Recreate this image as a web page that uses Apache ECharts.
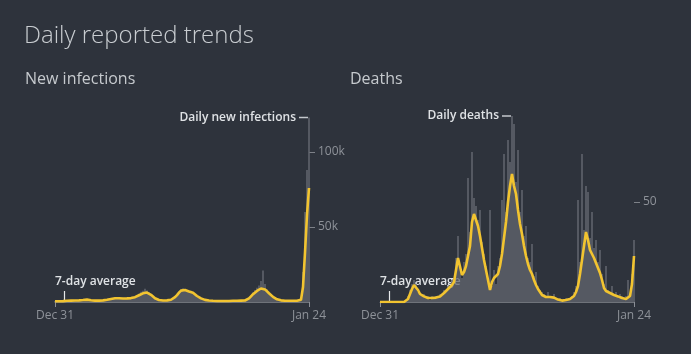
<!DOCTYPE html>
<html>
<head>
<meta charset="utf-8">
<script src="https://cdn.jsdelivr.net/npm/echarts@6/dist/echarts.min.js"></script>
<style>
  html, body { margin: 0; padding: 0; background: #2e333c; }
  #chart { width: 691px; height: 354px; }
</style>
</head>
<body>
<div id="chart"></div>
<script>
// values, one point per ~3 days (Dec 31 -> Jan 24)
var tickLabels = ['Dec 31', 'Jan 24'];

// new infections, thousands
var infBars = [
  0.6,0.5,0.7,0.6,0.8,0.7,0.9,1.0,0.9,1.1,
  1.0,1.2,1.3,1.2,1.5,1.8,1.7,1.5,1.3,1.1,
  1.0,0.9,1.1,1.2,1.3,1.6,1.7,2.1,2.4,2.7,
  2.9,2.8,2.6,2.5,2.4,2.6,2.8,3.0,3.2,3.5,
  4.0,4.6,5.5,6.8,7.5,8.9,7.6,6.5,5.2,3.8,
  2.7,1.9,1.4,1.2,1.1,1.1,1.2,1.4,1.8,2.6,
  3.8,5.2,7.0,8.4,9.2,8.6,7.8,7.7,7.5,6.6,
  5.4,4.4,3.5,2.6,2.0,1.6,1.2,1.1,0.9,0.9,
  0.8,0.9,0.7,0.8,0.8,0.7,0.9,0.8,0.8,0.9,
  0.9,0.8,1.0,1.0,1.0,1.2,1.8,2.8,4.5,6.5,
  8.0,9.5,11,14,21,12,8.5,6.5,5.0,3.8,
  2.8,2.0,1.6,1.2,1.0,0.9,0.9,0.8,0.9,0.9,
  0.9,1.0,1.1,2.5,20,60,88,123
];
var infAvg = [
  0.5,0.5,0.5,0.6,0.6,0.7,0.8,0.8,0.9,0.9,
  1.0,1.0,1.1,1.2,1.3,1.5,1.6,1.4,1.2,1.0,
  0.9,0.9,0.9,1.0,1.1,1.3,1.5,1.7,2.0,2.3,
  2.5,2.6,2.5,2.4,2.3,2.3,2.4,2.5,2.6,2.8,
  3.2,3.8,4.5,5.2,5.8,6.2,6.3,5.8,4.8,3.6,
  2.5,1.7,1.3,1.1,1.0,1.0,1.1,1.2,1.5,2.2,
  3.2,4.6,6.2,7.6,8.4,8.0,7.2,7.0,6.9,6.2,
  5.0,4.0,3.2,2.4,1.8,1.4,1.1,1.0,0.9,0.8,
  0.8,0.7,0.7,0.7,0.7,0.7,0.7,0.7,0.7,0.8,
  0.8,0.8,0.8,0.9,0.9,1.0,1.5,2.4,3.8,5.2,
  6.5,7.4,8.2,9.0,9.1,8.4,7.2,5.8,4.5,3.4,
  2.5,1.8,1.4,1.1,0.9,0.8,0.8,0.8,0.8,0.8,
  0.8,0.8,0.9,1.5,10,33,58,76
];

// deaths
var deathBars = [
  0,0,0,0,0,0,0,0,0,0,
  0,0,0,1,3,6,9,11,9,5,
  4,3,4,2,3,1,3,2,3,2,
  4,3,6,5,8,7,11,9,22,33,
  18,12,20,24,62,35,75,52,48,41,
  46,30,24,18,12,46,8,16,9,18,
  22,51,74,45,81,70,93,89,60,76,
  45,56,33,38,22,20,29,13,15,8,
  6,5,4,3,5,2,3,4,2,1,
  2,1,1,2,1,2,3,5,8,51,
  20,74,36,58,55,32,45,27,31,20,
  26,14,9,18,6,5,8,4,5,3,
  4,3,2,3,11,4,14,31
];
var deathAvg = [
  0,0,0,0,0,0,0,0,0,0,
  0,0,0,0,1.5,4,6.5,8.5,8,6,
  4,3.2,2.8,2.5,2,1.5,2,1.8,2.2,2.5,
  2.8,3.5,4.5,5.5,6.5,7.5,8.5,10,11,22,
  21,13.5,15,18,23,28,40,44,43.5,38,
  33,27,21,16,11,6,10,12,11,14,
  18,24,32,40,50,58,64,58,54,46,
  39,34,28,23,19,16,14,11,8.5,6.5,
  5,3.5,3,2.5,3,2.5,2,2.2,1.5,1.2,
  1,0.7,0.8,1,1.2,1.5,2,3,5,8,
  14,21,28,35,31,26,24,22,19.5,17,
  14.5,11,7,5.5,5,4.5,4.3,3.5,3,2.8,
  2.5,2,2.2,1.5,1.2,3,9,23
];

var N = infAvg.length;
var start = new Date(2020, 11, 31);
var months = ['Jan','Feb','Mar','Apr','May','Jun','Jul','Aug','Sep','Oct','Nov','Dec'];
var categories = [];
for (var i = 0; i < N; i++) {
  var d = new Date(start.getTime() + Math.round(i * 389 / (N - 1)) * 86400000);
  categories.push(months[d.getMonth()] + ' ' + d.getDate());
}

var BG = '#2e333c';
var BAR = '#63676f';
var YEL = '#f2c430';
var TXT = '#dfe2e5';
var MUTED = '#8e9299';

function xAxisFor(gi) {
  return {
    type: 'category', gridIndex: gi, data: categories, boundaryGap: false,
    axisLine: { lineStyle: { color: '#6f737a', width: 1 } },
    axisTick: { interval: function (i) { return i === 0 || i === N - 1; }, length: 5, lineStyle: { color: '#8a8e95' } },
    axisLabel: {
      interval: function (i) { return i === 0 || i === N - 1; },
      formatter: function (v, i) { return i === 0 ? tickLabels[0] : tickLabels[1]; },
      color: MUTED, fontSize: 12, fontFamily: 'Open Sans', margin: 8
    },
    splitLine: { show: false }
  };
}
function yAxisFor(gi, max, ticks, fmt) {
  return {
    type: 'value', gridIndex: gi, position: 'right', min: 0, max: max,
    axisLine: { show: false }, splitLine: { show: false },
    axisTick: { show: true, customValues: ticks, length: 6, lineStyle: { color: '#7d8188' } },
    axisLabel: { customValues: ticks, formatter: fmt, color: MUTED, fontSize: 12, fontFamily: 'Open Sans', margin: 9 }
  };
}

var chart = echarts.init(document.getElementById('chart'));
chart.setOption({
  backgroundColor: BG,
  animation: false,
  title: [
    { text: 'Daily reported trends', left: 24, top: 24, padding: 0,
      textStyle: { color: '#c9cdd1', fontSize: 24, fontWeight: 300, fontFamily: 'Open Sans' } },
    { text: 'New infections', left: 25, top: 71, padding: 0,
      textStyle: { color: '#c6cace', fontSize: 16, fontWeight: 'normal', fontFamily: 'Open Sans' } },
    { text: 'Deaths', left: 350, top: 71, padding: 0,
      textStyle: { color: '#c6cace', fontSize: 16, fontWeight: 'normal', fontFamily: 'Open Sans' } }
  ],
  grid: [
    { left: 55, width: 254, top: 102, height: 200 },
    { left: 380, width: 254, top: 102, height: 200 }
  ],
  xAxis: [xAxisFor(0), xAxisFor(1)],
  yAxis: [
    yAxisFor(0, 400 / 3, [50, 100], function (v) { return v + 'k'; }),
    yAxisFor(1, 100, [50], function (v) { return String(v); })
  ],
  series: [
    { type: 'bar', xAxisIndex: 0, yAxisIndex: 0, data: infBars, barCategoryGap: '25%',
      itemStyle: { color: BAR }, silent: true },
    { type: 'line', xAxisIndex: 0, yAxisIndex: 0, data: infAvg, showSymbol: false,
      lineStyle: { color: YEL, width: 2.6 }, silent: true },
    { type: 'bar', xAxisIndex: 1, yAxisIndex: 1, data: deathBars, barCategoryGap: '25%',
      itemStyle: { color: BAR }, silent: true },
    { type: 'line', xAxisIndex: 1, yAxisIndex: 1, data: deathAvg, showSymbol: false,
      lineStyle: { color: YEL, width: 2.6 }, silent: true }
  ]
});

// annotations anchored to the data through the axes
var labelFont = '600 12px "Open Sans"';
var g = [];
[[0, infBars, 'Daily new infections'], [2, deathBars, 'Daily deaths']].forEach(function (a) {
  var bars = a[1];
  var mx = Math.max.apply(null, bars);
  var idx = bars.indexOf(mx);
  var p = chart.convertToPixel({ seriesIndex: a[0] }, [idx, mx]);
  g.push({ type: 'line', shape: { x1: p[0] - 10, y1: p[1], x2: p[0] - 1, y2: p[1] },
    style: { stroke: '#c4c8cc', lineWidth: 1.5 } });
  g.push({ type: 'text', x: p[0] - 13, y: p[1], style: { text: a[2], font: labelFont, fill: TXT,
    align: 'right', verticalAlign: 'middle' } });

  var p0 = chart.convertToPixel({ seriesIndex: a[0] + 1 }, [0, 0]);
  var p5 = chart.convertToPixel({ seriesIndex: a[0] + 1 }, [5, 0]);
  g.push({ type: 'line', shape: { x1: p5[0] - 0.5, y1: p5[1] - 11, x2: p5[0] - 0.5, y2: p5[1] },
    style: { stroke: '#e6e8ea', lineWidth: 1.2 } });
  g.push({ type: 'text', x: p0[0], y: p0[1] - 20, style: { text: '7-day average', font: labelFont, fill: TXT,
    align: 'left', verticalAlign: 'middle' } });
});
chart.setOption({ graphic: g });
</script>
</body>
</html>
